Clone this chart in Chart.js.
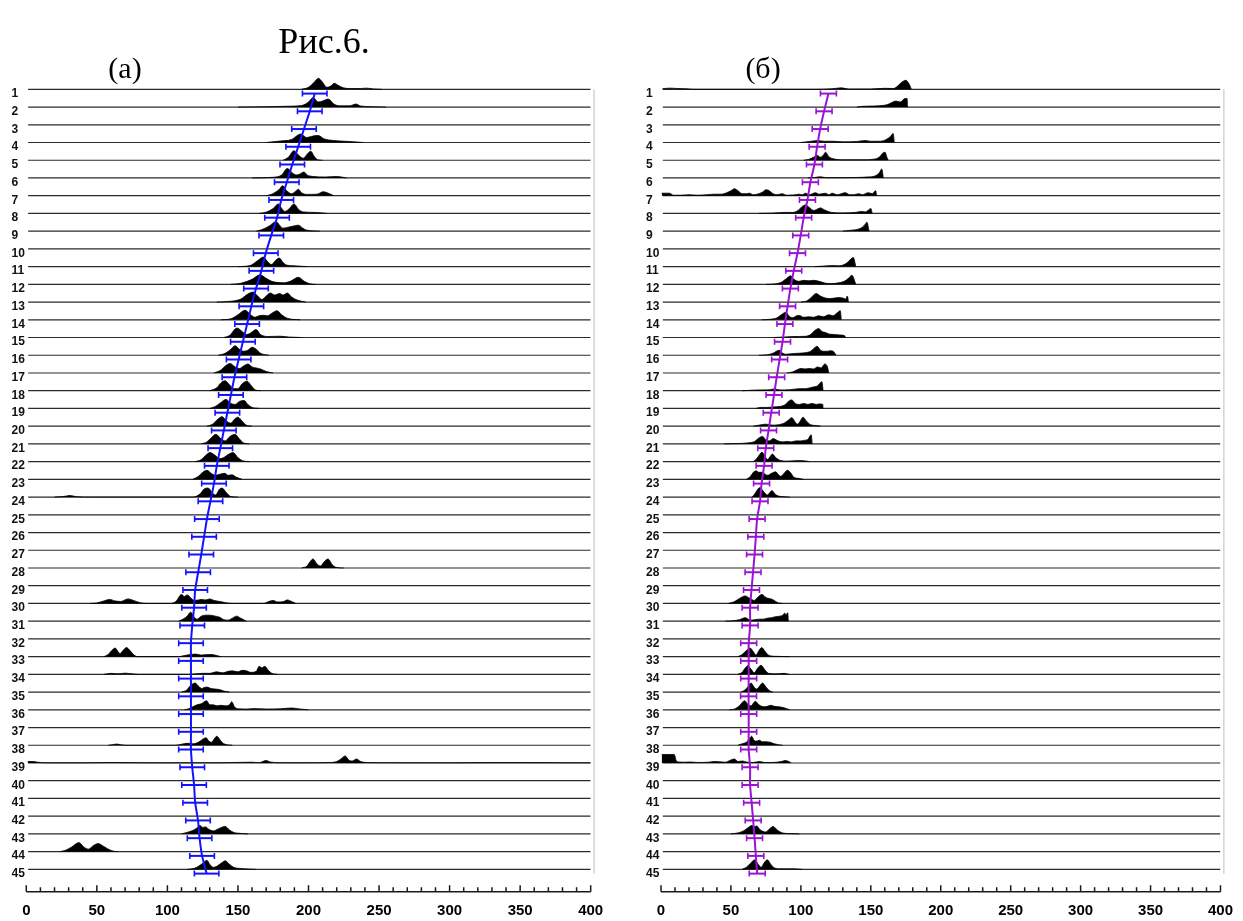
<!DOCTYPE html>
<html>
<head>
<meta charset="utf-8">
<script src="https://cdn.jsdelivr.net/npm/chart.js@4.4.0/dist/chart.umd.min.js"></script>
<style>
  html, body { margin: 0; padding: 0; background: #fff; }
  #wrap { position: relative; width: 1243px; height: 921px; overflow: hidden; background: #fff; }
  canvas { position: absolute; top: 0; }
  .t { position: absolute; font-family: "Liberation Serif", "Times New Roman", serif; color: #000;
       white-space: nowrap; line-height: 1; transform: translate(-50%, -50%); }
</style>
</head>
<body>
<div id="wrap">
  <canvas id="panelA" width="621" height="921" style="left:0px"></canvas>
  <canvas id="panelB" width="622" height="921" style="left:621px"></canvas>
  <div class="t" style="left:324px; top:41px; font-size:36px;">Рис.6.</div>
  <div class="t" style="left:125px; top:68px; font-size:30px;">(а)</div>
  <div class="t" style="left:763px; top:68px; font-size:30px;">(б)</div>
</div>
<script>
// Row (track) numbers and their tick labels
const rows = [1,2,3,4,5,6,7,8,9,10,11,12,13,14,15,16,17,18,19,20,21,22,23,24,25,26,27,28,29,30,31,32,33,34,35,36,37,38,39,40,41,42,43,44,45];
const rowLabels = ['1','2','3','4','5','6','7','8','9','10','11','12','13','14','15','16','17','18','19','20','21','22','23','24','25','26','27','28','29','30','31','32','33','34','35','36','37','38','39','40','41','42','43','44','45'];

// Panel (а): mean position per row and half-width of its error bar
const meansA = [204.4,200.9,196.8,192.7,188.5,184.6,180.7,177.7,173.6,169.7,166.6,162.8,159.5,156.5,153.5,150.5,147.5,145,142.5,140,137.5,135,133,130.5,128,126,124,121.8,119.7,118.9,117.6,116.7,116.7,116.7,116.7,116.7,116.7,116.7,117.6,118.9,119.7,121.7,122.8,124.6,127.8];
const errA = [8.7,8.7,8.7,8.7,8.7,8.7,8.7,8.7,8.7,8.7,8.7,8.7,8.7,8.7,8.7,8.7,8.7,8.7,8.7,8.7,8.7,8.7,8.7,8.7,8.7,8.7,8.7,8.7,8.7,8.7,8.7,8.7,8.7,8.7,8.7,8.7,8.7,8.7,8.7,8.7,8.7,8.7,8.7,8.7,8.7];

// Panel (б): mean position per row and half-width of its error bar
const meansB = [119.7,116.6,113.8,111.6,109.7,106.8,104.7,102,99.9,97.6,94.9,92.5,90.5,88.6,86.9,84.8,82.7,80.8,78.8,76.9,74.9,73.7,71.9,70.8,68.7,67.8,66.9,65.8,64.7,63.7,63.7,62.7,62.7,62.7,62.6,62.7,62.7,62.7,63.7,63.7,64.8,65.9,66.9,67.8,68.8];
const errB = [5.7,5.7,5.7,5.7,5.7,5.7,5.7,5.7,5.7,5.7,5.7,5.7,5.7,5.7,5.7,5.7,5.7,5.7,5.7,5.7,5.7,5.7,5.7,5.7,5.7,5.7,5.7,5.7,5.7,5.7,5.7,5.7,5.7,5.7,5.7,5.7,5.7,5.7,5.7,5.7,5.7,5.7,5.7,5.7,5.7];

// Density profiles, panel (а): [row, [[position, density], ...]]
const ridgesA = [
  [1,  [[195,0],[200,2],[204,7],[207,11],[210,7],[213,2],[215.5,3],[218.3,6],[221,4],[224.7,1.5],[230,0.8],[237,0.8],[241,1.2],[246,0.4],[252,0]]],
  [2,  [[150,0],[170,0.3],[185,0.8],[195,1.5],[200,5],[203.4,9.5],[206.7,5],[210,6],[214,8],[218,3],[222,1.2],[229,1.2],[233.7,3],[237,1],[246,0.3],[255,0]]],
  [4,  [[170,0],[180,1.5],[188,3],[194.5,8.5],[198.7,5],[202,6],[205.8,7],[208.1,6.5],[210.5,4],[218,2],[229.4,1],[239,0]]],
  [5,  [[182,0],[185.7,3],[189.7,9.5],[193,5],[196.3,2],[199,6],[201.6,9],[204,4],[206.5,0.5],[210,0]]],
  [6,  [[160,0],[175,0.7],[181,3],[185,9.5],[189,4.5],[191.6,3],[194,4],[196.8,6],[199,3],[203.2,1.5],[212,1],[220,1.5],[227,0]]],
  [7,  [[170,0],[173.9,1.5],[179,6],[181.7,10],[184.5,5],[188,2],[190.5,4],[192.8,6.5],[195,3],[198.7,1.3],[206,1.5],[210.5,4],[214,2.5],[218,0]]],
  [8,  [[165,0],[170.4,1.5],[175,5],[178.6,9.5],[181,5],[183.3,2],[186.5,5],[189.7,9.5],[193,4],[196.3,1.5],[205,1],[213,0]]],
  [9,  [[163,0],[166.8,1.5],[172,5],[177,9.5],[179.5,6],[181.7,3],[185.7,4],[189,5],[192.8,6],[196,3],[198.7,1],[208,0]]],
  [11, [[150,0],[158.5,1],[164,6],[168,9.5],[171,5],[173.9,2],[176.5,6],[179.3,8.5],[182,4],[184.5,1.5],[190,0.8],[199,0]]],
  [12, [[145,0],[152,1],[160,5],[165.6,9.5],[170,6],[174,3],[177.5,2],[182.1,1.5],[187,3],[192.8,7],[197,3],[201,0.5],[205,0]]],
  [13, [[135,0],[145,0.8],[152,3],[157,8],[160.7,10],[164,6],[167,2.5],[170,6],[173,9],[176,7],[179.5,8.5],[182,7],[185,9],[188,5],[192,2],[198,0]]],
  [14, [[138,0],[145,1],[150,5],[155,9.5],[159,5],[162,2.5],[165,4],[168,4.5],[171,4],[174.5,7],[177.7,9],[181,5],[185,1.5],[194,0]]],
  [15, [[140,0],[144,2],[149.3,9.5],[153,6],[156,3],[159,4.5],[162.8,8],[166,3],[171,1],[179.8,1.3],[186,0.5],[195,0]]],
  [16, [[136,0],[141,2],[145,6],[148,9.5],[151,6],[154,4],[157,5],[160,8],[163,6],[166,2],[172,0]]],
  [17, [[133,0],[138,3],[141,7],[144.4,9.5],[148,6],[151,4.5],[154,7],[157.1,9],[160,6],[163,5],[166,4],[170,1.5],[175,0]]],
  [18, [[130,0],[135,3],[138,8],[140.8,10],[144,6],[147,2],[150,2],[153,7],[156.4,9.5],[159.5,5],[162,1],[166,0]]],
  [19, [[130,0],[134,2],[138,6],[141.5,9],[145,5],[148,4],[151,7],[154.3,8],[157,4],[160,1],[165,0]]],
  [20, [[128,0],[132,2],[135,6],[138.7,9.5],[142,5],[145,3],[147.5,7],[150,9],[153,5],[156,1],[160,0]]],
  [21, [[124,0],[128,2],[131,6],[134.4,9.5],[138,5],[141,3],[144,7],[147.9,9.5],[151,5],[154,1],[158,0]]],
  [22, [[120,0],[124,2],[127,6],[130.2,9],[134,6],[137,3],[140,4],[143,7],[146.5,9],[150,4],[153,1],[158,0]]],
  [23, [[118,0],[122,3],[125,7],[128.1,9],[131,6],[134,4],[137,5],[140.8,6],[143,4],[145.8,4.5],[149,2],[153,0]]],
  [24, [[20,0],[26,0.5],[31,1.5],[36,0.3],[45,0],[118,0],[123,3],[126,8],[128.8,9],[132,4],[134,2],[137,8],[138.7,9],[142,4],[145,0.5],[150,0]]],
  [28, [[195,0],[199,2],[201,6],[203.2,9],[206,4],[208.5,2],[211,6],[213.8,9],[217,3],[220,0.5],[225,0]]],
  [30, [[45,0],[50,0.5],[55,2.5],[59,4],[63,2.5],[67,2],[72,4.5],[76,3],[80,1],[85,0],[102,0],[106,2],[110,9],[112,7],[114,8.5],[117,5],[119,3],[122,3.5],[124,4],[127,3.5],[130,4.5],[133,3],[137,2],[141,0.8],[146,0],[168,0],[172,2],[175,3],[178,1.5],[182,1.8],[185,3.5],[188,2],[191,0]]],
  [31, [[108,0],[111,2],[114,5],[116.5,9],[119,4],[121,2],[124,5],[127,6],[130,6],[134,5],[137,4],[140,1.5],[143,1],[146,3],[149,5],[152,3],[156,0]]],
  [33, [[55,0],[58,2],[60.5,6],[63,8.5],[65,5],[66.4,3],[68.5,6],[71,9],[73.5,6],[76,2],[79,0],[108,0],[112,1],[116,2],[120,2.5],[124,1.5],[128,2],[132,2],[135,1],[138,0]]],
  [34, [[55,0],[60,1],[65,0.5],[70,1.2],[75,0.5],[80,0],[115,0],[120,0.5],[125,1],[130,1],[135,2.5],[139,1.5],[143,3],[146,3.5],[150,2.5],[153,4],[156,3.5],[159,2],[163,3],[165,8],[167,6.5],[169,8],[171.5,4],[174,1],[178,0]]],
  [35, [[110,0],[113.7,2],[116,6],[119.6,9],[122,6],[124.3,3.5],[126,4.5],[128,5],[131,3.5],[134,3],[137,2.5],[140,1],[144,0]]],
  [36, [[112,0],[115,1],[118,3],[121,5],[124,6],[127.8,9],[130,5],[132.5,5],[135,4],[138,4.5],[141,4],[144,5],[145.6,8],[147.5,3],[150,1],[157,0.8],[161,1.2],[170,0.8],[180,1],[188,1.8],[194,0.8],[200,0]]],
  [38, [[58,0],[62,0.8],[64,1.2],[67,0.5],[72,0],[105,0],[110,1],[114,2],[118,1.5],[122,3],[125,6],[127.4,7.5],[129.5,4],[131.4,3],[133,6],[135,9],[137.5,5],[140,1.5],[146,0]]],
  [39, [[1,1.5],[5,1.5],[8,0.8],[12,0.3],[20,0.2],[40,0.2],[60,0.5],[80,0.3],[100,0.2],[140,0.3],[160,0.8],[165,0.3],[170,2.5],[173,1],[180,0.3],[200,0.3],[215,0.5],[220,1.5],[223,4],[226,7],[228.5,3],[231,2],[234,4],[237,1.5],[242,0.5],[260,0.3],[300,0.2],[340,0.4],[380,0.3],[400,0.2]]],
  [43, [[110,0],[114,1.5],[118,3.5],[121,6],[123,8.5],[125,6.5],[127,7],[129,5],[132.5,3],[136,5],[140.8,7.5],[144,4],[147,1.5],[152,0.5],[157,0]]],
  [44, [[24,0],[28,1.5],[32,4.5],[37.3,9],[40.5,5],[44,2.5],[47.5,6],[51,8],[54,6],[57.5,3],[61.7,0.5],[65,0]]],
  [45, [[114,0],[119,1],[122,3],[125,6],[128,9],[130,5],[132.5,2],[135,3],[138,6],[141,8.5],[144,5],[147,2],[152,0.8],[158,0.3],[163,0]]]
];

// Density profiles, panel (б)
const ridgesB = [
  [1,  [[1,0.5],[6,1.2],[12,0.8],[18,0.5],[24,0],[110,0],[122,0.5],[129,1.5],[134,0.3],[150,0.3],[160,1],[166,0.8],[169,3],[172,7],[175,9],[177.5,5],[179,0]]],
  [2,  [[140,0],[145,0.8],[152,1],[158,1.5],[162,2.5],[165,4.5],[168,6],[171,5],[174.5,8.5],[176,8.5],[176.3,0]]],
  [4,  [[100,0],[106,1],[112,2],[117,1.2],[122,1.3],[130,0.7],[140,1],[146,2],[150,1.2],[157,1.3],[161,3],[164,6],[166,9],[166.8,0]]],
  [5,  [[102,0],[106,1],[109,3],[111.6,5],[114,3],[116,5],[117.6,8],[120,3.5],[123,1.5],[130,0.5],[145,0.5],[152,1],[156,3],[158.5,7],[160.2,8],[161.5,3],[162.5,0]]],
  [6,  [[105,0],[110,0.5],[114,1.2],[118,0.3],[130,0.3],[140,0.5],[148,1],[153,2],[156,5],[157.8,9],[159,0]]],
  [7,  [[0.5,2.5],[6,2.5],[9,0.5],[14,0.5],[20,1],[26,0.5],[33,1],[38,1.5],[43,1.5],[47,3],[50,5],[52.5,7],[55,5],[58,2],[61,2],[63,2.5],[66,1],[70,2],[73,4],[75,6],[77.4,5],[80,2],[83,1],[86.6,2],[90,0.5],[95,0.8],[98.7,1.5],[101,1],[103.4,2.5],[106,1],[110.5,3],[113,1.5],[117.6,2.5],[120,1],[122.3,2.5],[126,1],[131.8,3],[135,1],[138,1],[141.2,2],[144,1],[148.3,3],[151,2],[153.5,5],[154.2,0]]],
  [8,  [[70,0],[80,0.3],[88,1],[94,1],[98,3],[101,7],[103.4,8.5],[106,6],[109.3,3],[112,4.5],[114,5.5],[117,3.5],[122,1],[130,0.5],[138,0.8],[143.6,2],[146,1.5],[148,3],[150,5],[151,0]]],
  [9,  [[130,0],[136.5,1],[141,2],[144,4],[146,7],[147.2,9],[148.8,0]]],
  [11, [[110,0],[116,0.5],[122,1],[127,0.8],[131,2],[134,5],[136,8],[137.5,9],[139.3,0]]],
  [12, [[75,0],[82,0.5],[86,2],[89,5],[92.8,8.5],[95,5],[98.7,3],[102,4],[105.7,3.5],[109,4],[113,3],[118,1],[122.3,0.8],[127,1.5],[131,3],[134,6],[136.5,9],[139.3,0]]],
  [13, [[100,0],[104,1],[107,4],[110.9,8.5],[114,6],[117.6,4],[121,3.5],[124,4],[127,4.5],[130,4],[132,3],[133.2,6],[134.1,0]]],
  [14, [[72,0],[78,0.5],[83,2],[86,5],[89.2,7.5],[92,3],[94,2],[97,4],[99,4.3],[102,2.5],[105.7,3],[109,2.5],[112.8,4],[116,3],[120,5],[123,4],[126,7],[128.2,9],[128.9,0]]],
  [15, [[80,0],[88,0.5],[95,1],[103,1.2],[107,3],[110,7],[112.8,9],[115,6],[117.6,5],[120,3.5],[124,3],[128,2.5],[131,2],[132.2,0]]],
  [16, [[70,0],[76,0.5],[80,2],[84.5,5],[87,2],[89.2,1],[93,1.5],[98.7,2],[103,2.5],[107,4],[109.5,7],[111.6,9],[114,5],[116.4,4],[119,4],[121.2,4.5],[123.5,3.5],[125.1,0]]],
  [17, [[90,0],[94,1],[97,3],[100,4.5],[103,4],[106,4.5],[109,4],[112,6],[114.5,5],[117.1,9],[119,6],[120,0]]],
  [18, [[58,0],[65,0.5],[72,0.8],[78,1],[81,1.8],[85,0.8],[92,1],[98.7,2],[103,2],[108,3.5],[112,5],[115,9],[115.9,0]]],
  [19, [[68,0],[71,1],[76,1],[80,1.5],[85,2],[89,4],[91,7],[93.5,8.5],[96,5],[99,4],[102,5],[105,4],[108,5],[111,4],[113,4.5],[115.7,4],[115.8,0]]],
  [20, [[66,0],[70,1],[75,2],[80,1],[84,1.5],[88,3],[91,6],[93.5,8.5],[96,4],[97.5,2],[99.5,5],[101.5,9],[104,5],[107,1.5],[112,0.5],[114,0]]],
  [21, [[45,0],[55,0.3],[62,1],[67,2.5],[70,6],[72.6,7.5],[75,4],[77.4,3],[80.2,5.3],[83,3.5],[86.8,2],[90,2.5],[93,2],[96.3,3],[100,3],[102.2,3.5],[105,4.5],[107.4,9],[108.1,0]]],
  [22, [[66,0],[68.5,3],[70.5,7],[72.2,9.5],[74,6],[76.2,2],[78,5],[79.7,7.5],[82,4],[85.7,1],[90,0.5],[95,0.8],[100,1],[104,0.5],[106,0]]],
  [23, [[61,0],[64,3],[66,7],[68,8.5],[70,7],[72.6,7],[74.5,5],[76.2,4],[79,6],[82,7.5],[84,4.5],[85.7,3],[88,6],[90.4,9],[93,6],[95,2],[98,1],[100,0.5],[102,0]]],
  [24, [[65,0],[67,3],[69,7.5],[70.8,9.5],[73,6],[76.2,2],[77.5,4],[79.3,6.5],[81.5,3],[84,1],[88,0.3],[92,0]]],
  [30, [[48,0],[52,1.5],[55,4],[58,6.5],[60.3,7.5],[63,5.5],[66.7,3],[69,6],[72.2,9],[75,6],[79.7,4],[82,2],[84,0.5],[87,0]]],
  [31, [[46,0],[52,0.5],[56,1.5],[60.3,3.5],[64,1],[67,1.5],[70.3,2],[73,2],[76,3],[79,3.5],[82,4.5],[85,5],[87,6],[88.5,8],[89.5,6.5],[90.6,8.5],[91.1,0]]],
  [33, [[55,0],[58,2],[61,6],[63.7,8.5],[66,5],[67.9,1.5],[70,6],[72,9],[74.5,5],[77.4,1],[82,0.3],[92,0]]],
  [34, [[55,0],[58,2],[60,6],[62,8.5],[64.5,5],[66.7,1.5],[69,6],[71.5,9],[74,5],[76.9,1],[82,0.5],[86,0.8],[88,1],[91.6,0]]],
  [35, [[57,0],[60,2],[62.5,6],[64.4,9],[66.5,5],[68.3,3],[70.5,6],[72.6,9],[75,5],[77.9,1],[80,0]]],
  [36, [[49,0],[53,1],[56,4],[59.8,9],[62,5.5],[64.4,4],[66,6.5],[67.4,8.5],[70,5],[73.8,3],[76,3.5],[78.6,4.5],[81,3.5],[84.5,3],[88,2],[92,0]]],
  [38, [[55,0],[58,1.5],[61,3],[63,6],[64.8,9],[66.5,5],[67.9,4],[70.3,5],[72.5,3.5],[75,3.5],[78,3],[81,1.5],[84,0.5],[87,0]]],
  [39, [[0.5,8.5],[9.5,8.5],[11,2],[13,1],[17,0.8],[21,1],[26,0.5],[34,0.8],[38,1.5],[42,1.2],[46,0.8],[50,3],[52.5,4],[55,1.5],[58.4,2],[61,1],[66,0.5],[70.3,1.5],[74,0.5],[80,0.5],[86,1.5],[89,2.5],[92,1],[93,0]]],
  [43, [[50,0],[55,1],[59,3],[62,6],[65.1,8.5],[66.5,7],[68.3,8],[71,4],[75,2],[77.5,5],[80.2,7.5],[83,4],[86.8,1],[92,0.3],[99,0]]],
  [45, [[58,0],[61,2],[64,6],[67,9.5],[69.5,5],[71.7,2],[73.5,6],[76,9.5],[78.5,5],[81,1.5],[85,0.5],[95,0.5],[101,0]]]
];

// Vertical scale of a density profile, in rows per density unit
const DENSITY_ROW = 1 / 17.7;
// Error bars sit just below each row's baseline
const BAR_OFFSET = 0.24;
const FONT_SANS = '"Liberation Sans", Arial, sans-serif';

// Draws the horizontal error bars with end caps
const errorBarPlugin = {
  id: 'errorBars',
  afterDatasetsDraw(chart, args, opts) {
    const { ctx, scales: { x, y } } = chart;
    ctx.save();
    ctx.strokeStyle = opts.color;
    ctx.lineCap = 'butt';
    opts.means.forEach((m, i) => {
      const yy = y.getPixelForValue(rows[i] + BAR_OFFSET);
      const x0 = x.getPixelForValue(m - opts.errs[i]);
      const x1 = x.getPixelForValue(m + opts.errs[i]);
      ctx.lineWidth = 2;
      ctx.beginPath(); ctx.moveTo(x0, yy); ctx.lineTo(x1, yy); ctx.stroke();
      ctx.lineWidth = 1.6;
      ctx.beginPath();
      ctx.moveTo(x0, yy - 3); ctx.lineTo(x0, yy + 3);
      ctx.moveTo(x1, yy - 3); ctx.lineTo(x1, yy + 3);
      ctx.stroke();
    });
    ctx.restore();
  }
};

// Bottom axis line with upward major/minor ticks, and the thin frame line on the right
const axisPlugin = {
  id: 'axisFrame',
  afterDraw(chart) {
    const { ctx, chartArea, scales: { x, y } } = chart;
    const yb = chartArea.bottom;
    ctx.save();
    ctx.strokeStyle = '#1a1a1a';
    ctx.lineWidth = 1.5;
    ctx.beginPath();
    ctx.moveTo(x.getPixelForValue(0), yb);
    ctx.lineTo(x.getPixelForValue(400), yb);
    for (let v = 0; v <= 400; v += 10) {
      const px = x.getPixelForValue(v);
      const len = v % 50 === 0 ? 6.5 : 4.5;
      ctx.moveTo(px, yb);
      ctx.lineTo(px, yb - len);
    }
    ctx.stroke();
    ctx.strokeStyle = '#d4d4d4';
    ctx.lineWidth = 1.5;
    const xr = x.getPixelForValue(402.4);
    ctx.beginPath();
    ctx.moveTo(xr, y.getPixelForValue(1));
    ctx.lineTo(xr, y.getPixelForValue(45.25));
    ctx.stroke();
    ctx.restore();
  }
};

function buildPanel(canvasId, means, errs, ridges, color, padLeft, axisWidth, rightPad) {
  const baselineSets = rows.map(r => ({
    data: [{ x: 1.3, y: r }, { x: 400, y: r }],
    borderColor: '#2a2a2a', borderWidth: 1.2, pointRadius: 0, fill: false, order: 2
  }));
  const ridgeSets = ridges.map(([r, pts]) => ({
    data: pts.map(([px, d]) => ({ x: px, y: r - d * DENSITY_ROW })),
    fill: { value: r },
    backgroundColor: '#000', borderColor: '#000', borderWidth: 0.8,
    pointRadius: 0, cubicInterpolationMode: 'monotone', order: 1
  }));
  const meanSet = {
    data: means.map((m, i) => ({ x: m, y: rows[i] + BAR_OFFSET })),
    borderColor: color, borderWidth: 2, pointRadius: 0, tension: 0.25, fill: false, order: 0
  };

  return new Chart(document.getElementById(canvasId), {
    type: 'line',
    data: { datasets: [meanSet, ...ridgeSets, ...baselineSets] },
    options: {
      responsive: false,
      animation: false,
      events: [],
      layout: { padding: { left: padLeft, right: rightPad, top: 71.6, bottom: 0 } },
      plugins: {
        legend: { display: false },
        tooltip: { enabled: false },
        errorBars: { means, errs, color }
      },
      scales: {
        x: {
          type: 'linear', min: 0, max: 400, position: 'bottom',
          grid: { display: false, drawTicks: false },
          border: { display: false },
          ticks: {
            stepSize: 50, autoSkip: false, maxRotation: 0, padding: 10,
            color: '#000', font: { family: FONT_SANS, size: 15, weight: 'bold' }
          },
          afterFit(scale) { scale.height = 29.3; }
        },
        y: {
          type: 'linear', min: 0, max: 46.26, reverse: true,
          grid: { display: false, drawTicks: false },
          border: { display: false },
          afterBuildTicks(scale) { scale.ticks = rows.map(v => ({ value: v })); },
          ticks: {
            autoSkip: false, padding: 2, labelOffset: 4.5, crossAlign: 'far',
            color: '#111', font: { family: FONT_SANS, size: 12, weight: 'bold' },
            callback: (value, index) => rowLabels[index]
          },
          afterFit(scale) { scale.width = axisWidth; }
        }
      }
    },
    plugins: [errorBarPlugin, axisPlugin]
  });
}

buildPanel('panelA', meansA, errA, ridgesA, '#1212ff', 11.5, 14.8, 30.3);
buildPanel('panelB', meansB, errB, ridgesB, '#9a12d6', 25, 15, 18.3);
</script>
</body>
</html>
